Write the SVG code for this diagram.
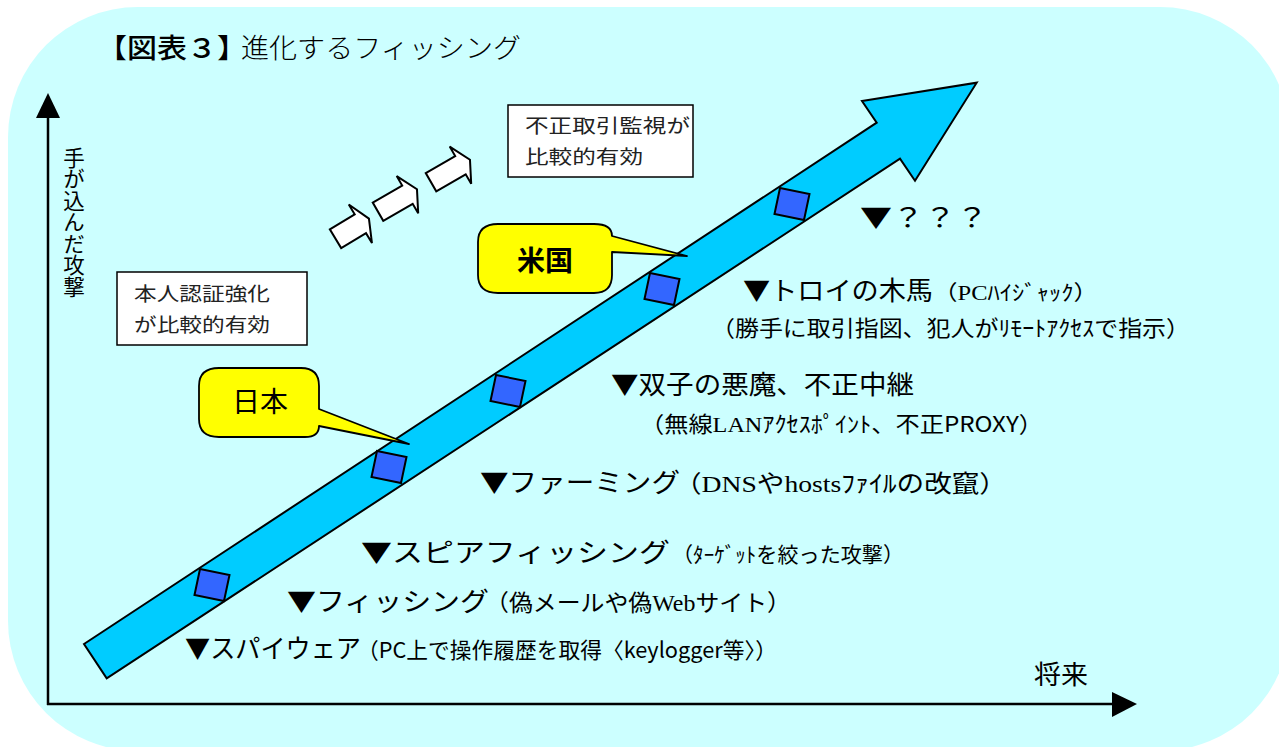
<svg xmlns="http://www.w3.org/2000/svg" width="1279" height="747" viewBox="0 0 1279 747">
<style>
  text{font-family:"Noto Sans CJK JP","Noto Sans CJK SC",sans-serif;fill:#000}
  .ser{font-family:"Liberation Serif","Noto Sans CJK JP",serif}
  .box{fill:#fff;stroke:#000;stroke-width:1.5}
  .boxt{font-size:19px;fill:#222}
  .call{fill:#FFFF00;stroke:#000;stroke-width:1.8;stroke-linejoin:round}
  .callt{font-size:28px;text-anchor:middle}
  .big{font-size:26px}
  .mid{font-size:22px}
  .sq{fill:#3366FF;stroke:#000;stroke-width:2}
  .wa{fill:#fff;stroke:#000;stroke-width:2;stroke-linejoin:miter}
  .axis{stroke:#000;stroke-width:2.5;fill:none}
</style>
<defs>
  <polygon id="sqshape" points="-12,-16 17.5,-10 12,16 -17.5,10"/>
  <polygon id="wshape" points="0,-10.5 34,-10.5 34,-21.5 45,0 34,21.5 34,10.5 0,10.5"/>
</defs>

<rect x="8" y="7" width="1282" height="744" rx="130" ry="130" fill="#CCFFFF"/>

<g id="title">
  <text x="97" y="58" font-size="27" font-weight="500" textLength="150" lengthAdjust="spacingAndGlyphs">【図表３】</text>
  <text x="241" y="58" font-size="27" font-weight="300" textLength="280" lengthAdjust="spacingAndGlyphs">進化するフィッシング</text>
</g>

<g id="axes">
  <line class="axis" x1="48" y1="112" x2="48" y2="705"/>
  <line class="axis" x1="47" y1="704" x2="1115" y2="704"/>
  <polygon points="48,93 36,118 60,118" fill="#000"/>
  <polygon points="1137,704 1112,692 1112,717" fill="#000"/>
</g>
<g id="ylabel">
  <text x="74" y="147" font-size="21.5" style="writing-mode:vertical-rl">手が込んだ攻撃</text>
</g>
<g id="xlabel">
  <text x="1034" y="684" font-size="26" textLength="54" lengthAdjust="spacingAndGlyphs">将来</text>
</g>

<g id="mainArrow">
  <polygon points="84,644 876.7,122.7 862,101 976.7,82.7 915,180.7 900,158.7 106.7,678.3" fill="#00CCFF" stroke="#000" stroke-width="2"/>
  <use href="#sqshape" class="sq" transform="translate(212,585)"/>
  <use href="#sqshape" class="sq" transform="translate(389,467)"/>
  <use href="#sqshape" class="sq" transform="translate(508,391)"/>
  <use href="#sqshape" class="sq" transform="translate(662,289)"/>
  <use href="#sqshape" class="sq" transform="translate(792,204)"/>
</g>

<g id="whiteArrows">
  <polygon class="wa" points="0,-11 29,-11 29,-22.5 39,0 29,22.5 29,11 0,11" transform="translate(335.5,238.7) rotate(-31)"/>
  <use href="#wshape" class="wa" transform="translate(378,211.7) rotate(-30)"/>
  <use href="#wshape" class="wa" transform="translate(431,182.2) rotate(-30)"/>
</g>

<g id="boxFraud">
  <rect class="box" x="508" y="105" width="185" height="72"/>
  <text class="boxt" x="525" y="133" textLength="165" lengthAdjust="spacingAndGlyphs">不正取引監視が</text>
  <text class="boxt" x="525" y="164" textLength="118" lengthAdjust="spacingAndGlyphs">比較的有効</text>
</g>

<g id="boxAuth">
  <rect class="box" x="117" y="272" width="190" height="73"/>
  <text class="boxt" x="134" y="301" textLength="136" lengthAdjust="spacingAndGlyphs">本人認証強化</text>
  <text class="boxt" x="134" y="332" textLength="136" lengthAdjust="spacingAndGlyphs">が比較的有効</text>
</g>

<g id="calloutUS">
  <path class="call" d="M498,224 H594 Q612,224 612,236 L687,256 L612,252 V275 Q612,293 594,293 H498 Q478,293 478,275 V242 Q478,224 498,224 Z"/>
  <text class="callt" x="545" y="271" font-weight="700">米国</text>
</g>

<g id="calloutJP">
  <path class="call" d="M219,368 H301 Q319,368 319,386 V409 L409,444 L319,426 Q319,437 305,437 H219 Q199,437 199,419 V386 Q199,368 219,368 Z"/>
  <text class="callt" x="260" y="412">日本</text>
</g>

<g id="labels">
  <text class="big" x="860" y="227" textLength="128" lengthAdjust="spacingAndGlyphs">▼？？？</text>

  <text class="big" x="743" y="300" textLength="190" lengthAdjust="spacingAndGlyphs">▼トロイの木馬</text>
  <text x="933" y="300" font-size="21" textLength="165" lengthAdjust="spacingAndGlyphs">（<tspan class="ser">PC</tspan>ﾊｲｼﾞｬｯｸ）</text>
  <text class="mid" x="711" y="336" textLength="479" lengthAdjust="spacingAndGlyphs">（勝手に取引指図、犯人がﾘﾓｰﾄｱｸｾｽで指示）</text>

  <text class="big" x="611" y="394" textLength="303" lengthAdjust="spacingAndGlyphs">▼双子の悪魔、不正中継</text>
  <text class="mid" x="640" y="432" textLength="403" lengthAdjust="spacingAndGlyphs">（無線<tspan class="ser">LAN</tspan>ｱｸｾｽﾎﾟｲﾝﾄ、不正PROXY）</text>

  <text class="big" x="480" y="492" textLength="200" lengthAdjust="spacingAndGlyphs">▼ファーミング</text>
  <text x="674" y="492" font-size="24" textLength="333" lengthAdjust="spacingAndGlyphs">（<tspan class="ser">DNS</tspan>や<tspan class="ser">hosts</tspan>ﾌｧｲﾙの改竄）</text>

  <text class="big" x="361" y="562" textLength="309" lengthAdjust="spacingAndGlyphs">▼スピアフィッシング</text>
  <text x="672" y="562" font-size="21" textLength="232" lengthAdjust="spacingAndGlyphs">（ﾀｰｹﾞｯﾄを絞った攻撃）</text>

  <text class="big" x="287" y="611" textLength="202" lengthAdjust="spacingAndGlyphs">▼フィッシング</text>
  <text x="485" y="611" font-size="23" textLength="306" lengthAdjust="spacingAndGlyphs">（偽メールや偽<tspan class="ser">Web</tspan>サイト）</text>

  <text class="big" x="185" y="658" textLength="176" lengthAdjust="spacingAndGlyphs">▼スパイウェア</text>
  <text x="357" y="658" font-size="22" textLength="420" lengthAdjust="spacingAndGlyphs">（PC上で操作履歴を取得〈keylogger等〉）</text>
</g>
</svg>
